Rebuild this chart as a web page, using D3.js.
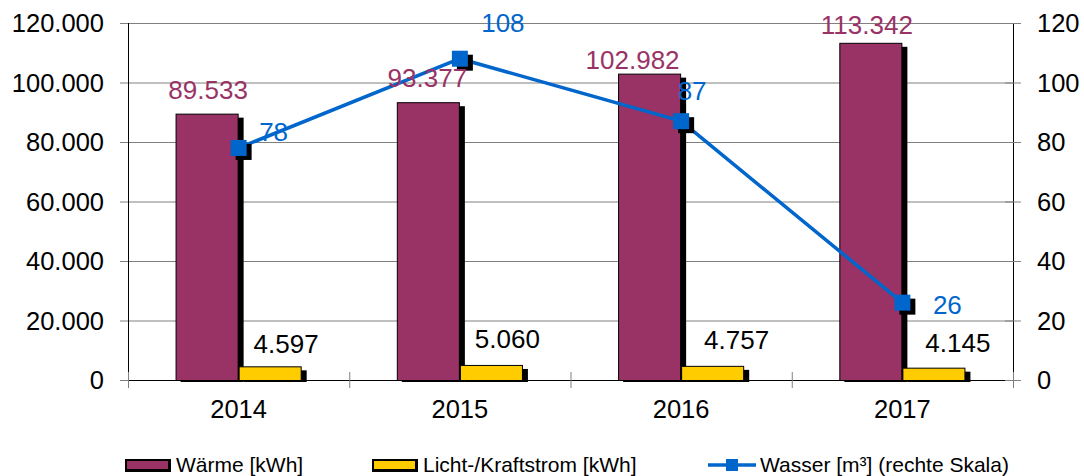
<!DOCTYPE html>
<html>
<head>
<meta charset="utf-8">
<script src="https://cdn.jsdelivr.net/npm/d3@7"></script>
<style>
  body { margin: 0; background: #fff; }
  text { font-family: "Liberation Sans", Arial, sans-serif; }
</style>
</head>
<body>
<div id="wrapper"></div>
<script>
// data
const years = ["2014", "2015", "2016", "2017"]
const waerme = [89533, 93377, 102982, 113342]
const strom = [4597, 5060, 4757, 4145]
const wasser = [78, 108, 87, 26]
const leftTicks = [0, 20000, 40000, 60000, 80000, 100000, 120000]
const rightTicks = [0, 20, 40, 60, 80, 100, 120]
const seriesNames = ["Wärme [kWh]", "Licht-/Kraftstrom [kWh]", "Wasser [m³] (rechte Skala)"]

// label nudges (hand placed in the original)
const waermeLabelDx = [1, -1, -17, -4]
const waermeLabelGap = [15, 15, 5, 9]
const stromLabelDx = [16, 16, 24, 24]
const stromLabelGap = [13, 17, 17, 16]
const wasserLabelDx = [35, 43, 11, 45]
const wasserLabelDy = [-7, -27, -21, 11]

const colors = { waerme: "#993366", strom: "#FFCC00", wasser: "#0066CC" }

const width = 1084
const height = 476
let dimensions = {
  width: width,
  height: height,
  margin: { top: 23, right: 71, bottom: 96, left: 128 },
}
dimensions.boundedWidth = dimensions.width - dimensions.margin.left - dimensions.margin.right
dimensions.boundedHeight = dimensions.height - dimensions.margin.top - dimensions.margin.bottom

const de = d3.formatLocale({ decimal: ",", thousands: ".", grouping: [3], currency: ["", " €"] })
const fmt = de.format(",.0f")

const svg = d3.select("#wrapper")
  .append("svg")
    .attr("width", dimensions.width)
    .attr("height", dimensions.height)

const bounds = svg.append("g")
    .attr("transform", `translate(${dimensions.margin.left},${dimensions.margin.top})`)

// scales
const xScale = d3.scaleBand()
  .domain(years)
  .range([0, dimensions.boundedWidth])
  .paddingInner(0.43)
  .paddingOuter(0.215)

const innerScale = d3.scaleBand()
  .domain(["waerme", "strom"])
  .range([0, xScale.bandwidth()])

const yLeft = d3.scaleLinear()
  .domain([0, 120000])
  .range([dimensions.boundedHeight, 0])

const yRight = d3.scaleLinear()
  .domain([0, 120])
  .range([dimensions.boundedHeight, 0])

const step = xScale.step()
const center = y => xScale(y) + xScale.bandwidth() / 2

// gridlines
bounds.append("g")
  .selectAll("line")
  .data(leftTicks.slice(1))
  .join("line")
    .attr("x1", 0)
    .attr("x2", dimensions.boundedWidth)
    .attr("y1", d => yLeft(d) + 0.5)
    .attr("y2", d => yLeft(d) + 0.5)
    .attr("stroke", "#808080")
    .attr("stroke-width", 1)

// bars
const shadowDx = 5
const shadowDy = 4
const barData = []
years.forEach((y, i) => {
  barData.push({ year: y, key: "waerme", value: waerme[i], i })
  barData.push({ year: y, key: "strom", value: strom[i], i })
})

const barGroup = bounds.append("g")
barGroup.selectAll(".shadow")
  .data(barData)
  .join("rect")
    .attr("class", "shadow")
    .attr("x", d => xScale(d.year) + innerScale(d.key) + shadowDx)
    .attr("y", d => yLeft(d.value) + shadowDy)
    .attr("width", innerScale.bandwidth())
    .attr("height", d => dimensions.boundedHeight - yLeft(d.value) - shadowDy + 2)
    .attr("fill", "#000")

barGroup.selectAll(".bar")
  .data(barData)
  .join("rect")
    .attr("class", "bar")
    .attr("x", d => xScale(d.year) + innerScale(d.key) + 0.5)
    .attr("y", d => yLeft(d.value) + 0.5)
    .attr("width", innerScale.bandwidth() - 1)
    .attr("height", d => dimensions.boundedHeight - yLeft(d.value))
    .attr("fill", d => colors[d.key])
    .attr("stroke", "#000")
    .attr("stroke-width", 1)

// axes
const axisG = bounds.append("g")
axisG.append("line")
  .attr("x1", 0.5).attr("x2", 0.5)
  .attr("y1", 0).attr("y2", dimensions.boundedHeight)
  .attr("stroke", "#000")
axisG.append("line")
  .attr("x1", dimensions.boundedWidth + 0.5).attr("x2", dimensions.boundedWidth + 0.5)
  .attr("y1", 0).attr("y2", dimensions.boundedHeight)
  .attr("stroke", "#000")
axisG.append("line")
  .attr("x1", 0).attr("x2", dimensions.boundedWidth)
  .attr("y1", dimensions.boundedHeight + 0.5).attr("y2", dimensions.boundedHeight + 0.5)
  .attr("stroke", "#000")

// tick marks
axisG.selectAll(".ltick")
  .data(leftTicks)
  .join("line")
    .attr("x1", -8).attr("x2", 0)
    .attr("y1", d => yLeft(d) + 0.5).attr("y2", d => yLeft(d) + 0.5)
    .attr("stroke", "#808080")
axisG.selectAll(".rtick")
  .data(rightTicks)
  .join("line")
    .attr("x1", dimensions.boundedWidth - 8).attr("x2", dimensions.boundedWidth + 8)
    .attr("y1", d => yRight(d) + 0.5).attr("y2", d => yRight(d) + 0.5)
    .attr("stroke", "#808080")
axisG.selectAll(".xtick")
  .data(d3.range(years.length + 1))
  .join("line")
    .attr("x1", d => d * step + 0.5).attr("x2", d => d * step + 0.5)
    .attr("y1", dimensions.boundedHeight - 8).attr("y2", dimensions.boundedHeight + 8)
    .attr("stroke", "#808080")

// tick labels
const tickFont = "25.5px"
axisG.selectAll(".llab")
  .data(leftTicks)
  .join("text")
    .attr("x", -24)
    .attr("y", d => yLeft(d) + 9)
    .attr("text-anchor", "end")
    .style("font-size", tickFont)
    .attr("fill", "#000")
    .text(d => fmt(d))
axisG.selectAll(".rlab")
  .data(rightTicks)
  .join("text")
    .attr("x", dimensions.boundedWidth + 24)
    .attr("y", d => yRight(d) + 9)
    .attr("text-anchor", "start")
    .style("font-size", tickFont)
    .attr("fill", "#000")
    .text(d => d)
axisG.selectAll(".xlab")
  .data(years)
  .join("text")
    .attr("x", d => center(d))
    .attr("y", dimensions.boundedHeight + 38)
    .attr("text-anchor", "middle")
    .style("font-size", tickFont)
    .attr("fill", "#000")
    .text(d => d)

// water line
const line = d3.line()
  .x((d, i) => center(years[i]))
  .y(d => yRight(d))

bounds.append("path")
  .datum(wasser)
  .attr("d", line)
  .attr("fill", "none")
  .attr("stroke", colors.wasser)
  .attr("stroke-width", 3.5)

const ms = 16
bounds.selectAll(".mshadow")
  .data(wasser)
  .join("rect")
    .attr("x", (d, i) => center(years[i]) - ms / 2 + 5)
    .attr("y", d => yRight(d) - ms / 2 + 4)
    .attr("width", ms)
    .attr("height", ms)
    .attr("fill", "#000")
bounds.selectAll(".marker")
  .data(wasser)
  .join("rect")
    .attr("x", (d, i) => center(years[i]) - ms / 2)
    .attr("y", d => yRight(d) - ms / 2)
    .attr("width", ms)
    .attr("height", ms)
    .attr("fill", colors.wasser)

// data labels
const labelFont = "26px"
bounds.selectAll(".wlab")
  .data(waerme)
  .join("text")
    .attr("x", (d, i) => xScale(years[i]) + innerScale("waerme") + innerScale.bandwidth() / 2 + waermeLabelDx[i])
    .attr("y", (d, i) => yLeft(d) - waermeLabelGap[i])
    .attr("text-anchor", "middle")
    .style("font-size", labelFont)
    .attr("fill", colors.waerme)
    .text(d => fmt(d))
bounds.selectAll(".slab")
  .data(strom)
  .join("text")
    .attr("x", (d, i) => xScale(years[i]) + innerScale("strom") + innerScale.bandwidth() / 2 + stromLabelDx[i])
    .attr("y", (d, i) => yLeft(d) - stromLabelGap[i])
    .attr("text-anchor", "middle")
    .style("font-size", labelFont)
    .attr("fill", "#000")
    .text(d => fmt(d))
bounds.selectAll(".walab")
  .data(wasser)
  .join("text")
    .attr("x", (d, i) => center(years[i]) + wasserLabelDx[i])
    .attr("y", (d, i) => yRight(d) + wasserLabelDy[i])
    .attr("text-anchor", "middle")
    .style("font-size", labelFont)
    .attr("fill", colors.wasser)
    .text(d => d)

// legend
const legend = svg.append("g")
const legendY = 472
const legendItems = [
  { name: seriesNames[0], x: 125, color: colors.waerme, type: "box" },
  { name: seriesNames[1], x: 372, color: colors.strom, type: "box" },
  { name: seriesNames[2], x: 708, color: colors.wasser, type: "line" },
]
legendItems.forEach(item => {
  if (item.type === "box") {
    legend.append("rect")
      .attr("x", item.x).attr("y", legendY - 13)
      .attr("width", 46).attr("height", 13)
      .attr("fill", "#000")
    legend.append("rect")
      .attr("x", item.x + 2).attr("y", legendY - 11)
      .attr("width", 41).attr("height", 8)
      .attr("fill", item.color)
  } else {
    legend.append("line")
      .attr("x1", item.x).attr("x2", item.x + 48)
      .attr("y1", legendY - 7).attr("y2", legendY - 7)
      .attr("stroke", item.color)
      .attr("stroke-width", 3.5)
    legend.append("rect")
      .attr("x", item.x + 24 - 6).attr("y", legendY - 13)
      .attr("width", 12).attr("height", 12)
      .attr("fill", item.color)
  }
  legend.append("text")
    .attr("x", item.x + (item.type === "box" ? 51 : 52))
    .attr("y", legendY)
    .style("font-size", "21px")
    .attr("fill", "#000")
    .text(item.name)
})
</script>
</body>
</html>
